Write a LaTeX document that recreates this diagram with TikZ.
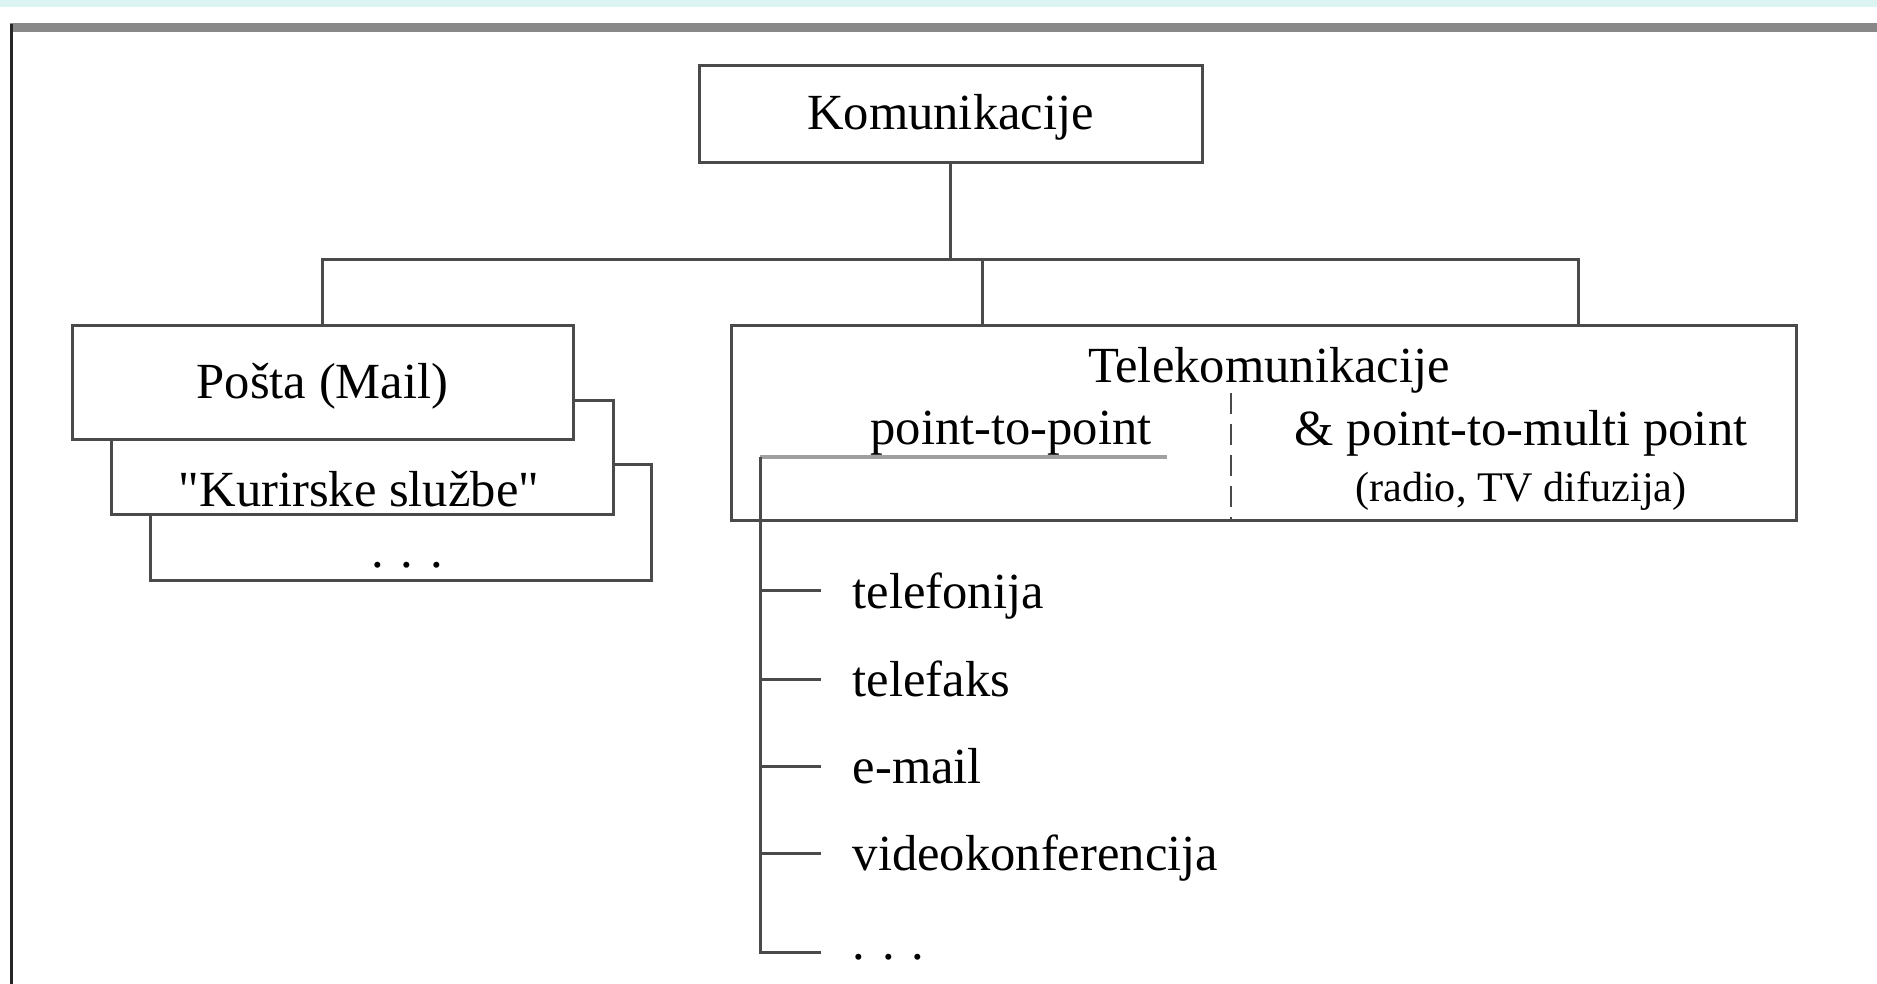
\documentclass[tikz,border=0pt]{standalone}
\usepackage{fontspec}
\setmainfont{Liberation Serif}
\definecolor{ink}{HTML}{4A4A4A}
\definecolor{rule}{HTML}{A0A0A0}
\definecolor{framegray}{HTML}{888888}
\definecolor{strip}{HTML}{DDF5F2}
\tikzset{
  every picture/.style={line cap=butt, line join=miter},
  ln/.style={draw=ink, line width=0.3mm},
  box/.style={ln, fill=white, inner sep=0pt, text height=12pt, text depth=3.2pt,
              font=\fontsize{14.4}{17}\selectfont},
  txt/.style={inner sep=0pt, font=\fontsize{14.4}{17}\selectfont},
  smalltxt/.style={inner sep=0pt, font=\fontsize{12}{14}\selectfont},
  item/.style={txt, anchor=west, inner xsep=3.1mm, text height=10pt, text depth=0pt},
}

\begin{document}
\begin{tikzpicture}[x=0.1mm, y=-0.1mm]
  \useasboundingbox (0,0) rectangle (1877,984);
  % page frame (cut off at right and bottom)
  \fill[strip] (0,0) rectangle (1877,7);
  \draw[framegray, line width=0.9mm] (10,28) -- (1877,28);
  \draw[black!85, line width=0.36mm] (11.6,24) -- (11.6,984);
  % root
  \node[box, minimum width=50.3mm, minimum height=9.7mm] (komun) at (950.5,114.5) {Komunikacije};
  % mail boxes, back to front
  \node[box, minimum width=50.1mm, minimum height=11.6mm] (ostalo) at (400.5,522.5) {};
  \node[box, minimum width=50.2mm, minimum height=11.4mm] (kurir) at (362,458) {};
  \node[box, minimum width=50.1mm, minimum height=11.4mm] (posta) at (322.5,383) {Pošta (Mail)};
  \node[txt] (kurirtxt) at (359,489) {\textquotedbl Kurirske službe\textquotedbl};
  \node[txt] (ostalotxt) at (407,565) {. . .};
  % telecom box
  \node[box, minimum width=106.5mm, minimum height=19.5mm] (tele) at (1263.5,423.5) {};
  \node[txt] (teletxt) at (1269,370) {Telekomunikacije};
  \node[txt] (p2p) at (1011,433) {point-to-point};
  \node[txt] (p2m) at (1521,433) {\& point-to-multi point};
  \node[smalltxt] (difuz) at (1521,491) {(radio, TV difuzija)};
  \draw[ink, line width=0.2mm, dash pattern=on 2.1mm off 1mm] (1231,393) -- (tele.south -| 1231,0);
  % tree
  \draw[ln] (komun.south) -- (komun.south |- 0,260) coordinate (bus);
  \draw[ln] (posta.north) |- (bus) -| (tele.north -| 1578,0);
  \draw[ln] (bus -| 982,0) -- (tele.north -| 982,0);
  % point-to-point services
  \coordinate (trunk) at (760,457);
  \draw[rule, line width=0.45mm] (trunk) -- (1167,457);
  \foreach \name/\txt/\y in {tel/telefonija/591, fax/telefaks/679, mail/e-mail/766, video/videokonferencija/853} {
    \node[item] (\name) at (821,\y) {\txt};
    \draw[ln] (trunk |- \name.west) -- (\name.west);
  }
  \node[item, text height=4pt] (more) at (821,952) {. . .};
  \draw[ln] (trunk) -- (trunk |- more.west) -- (more.west);
\end{tikzpicture}
\end{document}
